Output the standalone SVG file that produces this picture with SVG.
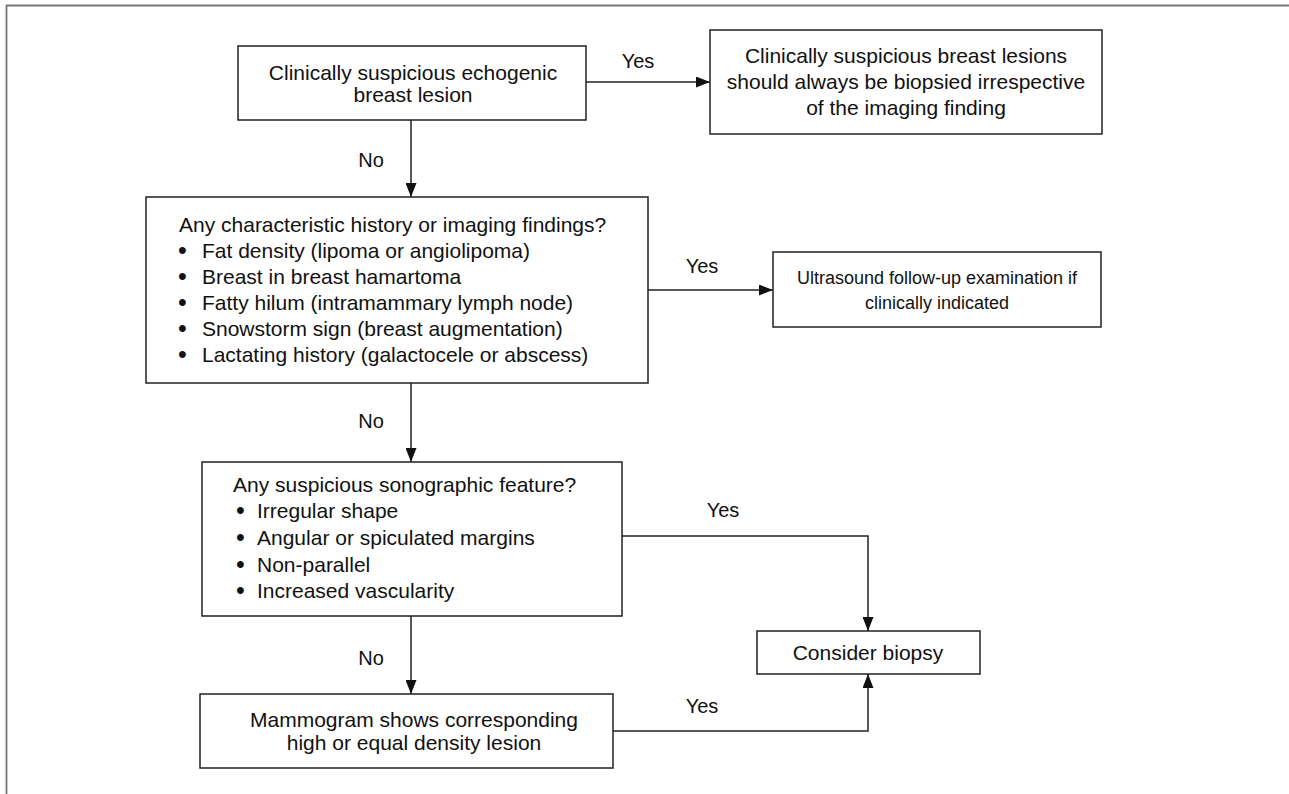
<svg xmlns="http://www.w3.org/2000/svg" width="1289" height="794" viewBox="0 0 1289 794">
<style>
.box{fill:#fff;stroke:#222;stroke-width:1.5}
.t{font-family:"Liberation Sans",Arial,Helvetica,sans-serif;font-size:21px;fill:#111}
.s{font-size:18px}
.lb{font-size:20px}
.b{font-size:25px}
.c{text-anchor:middle}
.ln{fill:none;stroke:#222;stroke-width:1.5}
.frame{fill:none;stroke:#777;stroke-width:1.8}
</style>
<defs>
<marker id="ah" viewBox="0 0 14 11" refX="14" refY="5.5" markerWidth="14" markerHeight="11" markerUnits="userSpaceOnUse" orient="auto">
<path d="M0,0 L14,5.5 L0,11 Z" fill="#111"/>
</marker>
</defs>
<rect width="1289" height="794" fill="#fff"/>
<path class="frame" d="M6.5,794 V5.5 H1289"/>

<g id="connectors">
<line class="ln" x1="586" y1="82" x2="710" y2="82" marker-end="url(#ah)"/>
<line class="ln" x1="411" y1="120" x2="411" y2="197" marker-end="url(#ah)"/>
<line class="ln" x1="648" y1="290" x2="773" y2="290" marker-end="url(#ah)"/>
<line class="ln" x1="411" y1="383" x2="411" y2="462" marker-end="url(#ah)"/>
<polyline class="ln" points="622,536 868,536 868,631" marker-end="url(#ah)"/>
<line class="ln" x1="411" y1="616" x2="411" y2="694" marker-end="url(#ah)"/>
<polyline class="ln" points="613,731 868,731 868,674" marker-end="url(#ah)"/>
<text class="t lb c" x="638" y="68">Yes</text>
<text class="t lb c" x="371" y="167">No</text>
<text class="t lb c" x="702" y="273">Yes</text>
<text class="t lb c" x="371" y="428">No</text>
<text class="t lb c" x="723" y="517">Yes</text>
<text class="t lb c" x="371" y="665">No</text>
<text class="t lb c" x="702" y="713">Yes</text>
</g>

<g id="n1">
<rect class="box" x="238" y="46" width="348" height="74"/>
<text class="t c" x="413" y="80">Clinically suspicious echogenic</text>
<text class="t c" x="413" y="102">breast lesion</text>
</g>

<g id="n2">
<rect class="box" x="710" y="30" width="392" height="104"/>
<text class="t c" x="906" y="63">Clinically suspicious breast lesions</text>
<text class="t c" x="906" y="89">should always be biopsied irrespective</text>
<text class="t c" x="906" y="115">of the imaging finding</text>
</g>

<g id="n3">
<rect class="box" x="146" y="197" width="502" height="186"/>
<text class="t" x="179" y="232">Any characteristic history or imaging findings?</text>
<text class="t b" x="178" y="259">•</text><text class="t" x="202" y="258">Fat density (lipoma or angiolipoma)</text>
<text class="t b" x="178" y="285">•</text><text class="t" x="202" y="284">Breast in breast hamartoma</text>
<text class="t b" x="178" y="311">•</text><text class="t" x="202" y="310">Fatty hilum (intramammary lymph node)</text>
<text class="t b" x="178" y="337">•</text><text class="t" x="202" y="336">Snowstorm sign (breast augmentation)</text>
<text class="t b" x="178" y="363">•</text><text class="t" x="202" y="362">Lactating history (galactocele or abscess)</text>
</g>

<g id="n4">
<rect class="box" x="773" y="252" width="328" height="75"/>
<text class="t s c" x="937" y="284">Ultrasound follow-up examination if</text>
<text class="t s c" x="937" y="309">clinically indicated</text>
</g>

<g id="n5">
<rect class="box" x="202" y="462" width="420" height="154"/>
<text class="t" x="233" y="492">Any suspicious sonographic feature?</text>
<text class="t b" x="236" y="519">•</text><text class="t" x="257" y="518">Irregular shape</text>
<text class="t b" x="236" y="546">•</text><text class="t" x="257" y="545">Angular or spiculated margins</text>
<text class="t b" x="236" y="573">•</text><text class="t" x="257" y="572">Non-parallel</text>
<text class="t b" x="236" y="599">•</text><text class="t" x="257" y="598">Increased vascularity</text>
</g>

<g id="n6">
<rect class="box" x="200" y="694" width="413" height="74"/>
<text class="t c" x="414" y="727">Mammogram shows corresponding</text>
<text class="t c" x="414" y="750">high or equal density lesion</text>
</g>

<g id="n7">
<rect class="box" x="757" y="631" width="223" height="43"/>
<text class="t c" x="868" y="660">Consider biopsy</text>
</g>
</svg>
